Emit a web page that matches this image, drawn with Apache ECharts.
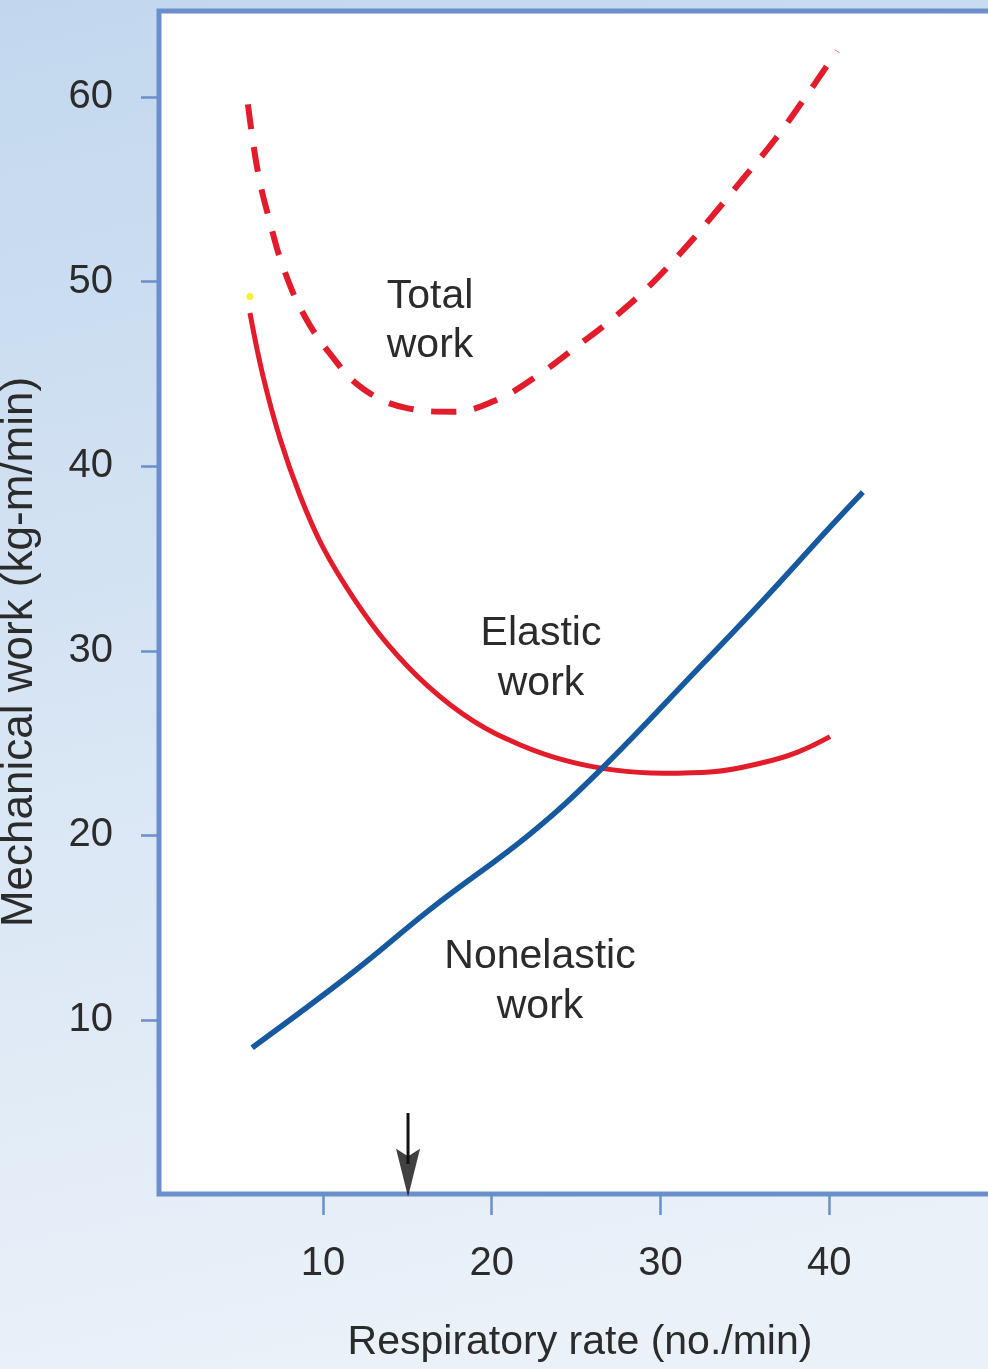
<!DOCTYPE html>
<html>
<head>
<meta charset="utf-8">
<script src="https://cdn.jsdelivr.net/npm/echarts@6/dist/echarts.min.js"></script>
<style>
html,body{margin:0;padding:0;overflow:hidden;}
#chart{width:988px;height:1369px;}
</style>
</head>
<body>
<div id="chart"></div>
<script>
// ---- data ----
const xTicks = [10, 20, 30, 40];
const yTicks = [10, 20, 30, 40, 50, 60];

const totalRate = [5.55, 6.15, 6.86, 7.63, 8.81, 10.41, 12.37, 14.98, 17.71, 20.31, 22.86, 25.06, 27.31, 29.38, 31.34, 33.12, 35.01, 36.79, 38.45, 40.47];
const totalWork = [59.6, 55.9, 53.2, 50.8, 48.3, 46.1, 44.2, 43.15, 42.95, 43.6, 45.0, 46.5, 48.1, 49.8, 51.7, 53.6, 55.7, 57.7, 59.8, 62.5];

const elasticRate = [5.67, 6.44, 7.45, 8.64, 10.0, 11.78, 13.79, 16.2, 18.9, 21.7, 24.4, 27.2, 30.2, 33.1, 36.1, 38.1, 40.05];
const elasticWork = [48.3, 44.9, 41.5, 38.4, 35.6, 32.9, 30.4, 28.1, 26.2, 24.9, 24.05, 23.55, 23.37, 23.45, 23.95, 24.5, 25.35];

const nonelasticRate = [5.8, 11.8, 16.5, 22.3, 26.5, 32.15, 36.1, 40.05, 42.0];
const nonelasticWork = [8.5, 12.6, 16.1, 20.1, 23.6, 28.95, 32.75, 36.7, 38.6];

const arrowRate = 15.04;
const arrowShaft = [4.96, 2.2];
const arrowHead = 1.72;

const markerDot = [5.67, 49.2];

const labels = {
  total: 'Total\nwork',
  elastic: 'Elastic\nwork',
  nonelastic: 'Nonelastic\nwork',
  xName: 'Respiratory rate (no./min)',
  yName: 'Mechanical work (kg-m/min)'
};

// ---- chart ----
const zip = (a, b) => a.map((v, i) => [v, b[i]]);
const FONT = '"Liberation Sans", Arial, Helvetica, sans-serif';
const TXT = '#2b2b2b';
const BORDER = '#6a8fcb';

const chart = echarts.init(document.getElementById('chart'), null, {renderer: 'canvas'});

const option = {
  animation: false,
  backgroundColor: {
    type: 'linear', x: 0, y: 0, x2: 0.3, y2: 1,
    colorStops: [
      {offset: 0, color: '#c2d7ee'},
      {offset: 0.55, color: '#d9e6f4'},
      {offset: 1, color: '#eaf1f9'}
    ]
  },
  grid: {
    left: 159, top: 11, width: 851, height: 1183,
    outerBoundsMode: 'none', containLabel: false,
    show: true, backgroundColor: '#ffffff',
    borderColor: BORDER, borderWidth: 5
  },
  xAxis: {
    type: 'value', min: 0.279, max: 50.72,
    axisLine: {show: false},
    splitLine: {show: false},
    axisTick: {show: true, length: 21, customValues: xTicks, lineStyle: {color: BORDER, width: 2.5}},
    axisLabel: {show: true, customValues: xTicks, margin: 50, color: TXT, fontSize: 40, fontFamily: FONT}
  },
  yAxis: {
    type: 'value', min: 0.574, max: 64.66,
    axisLine: {show: false},
    splitLine: {show: false},
    axisTick: {show: true, length: 18, customValues: yTicks, lineStyle: {color: BORDER, width: 2.5}},
    axisLabel: {show: true, customValues: yTicks, margin: 46, color: TXT, fontSize: 40, fontFamily: FONT}
  },
  series: [
    {
      name: 'Total work', type: 'line', data: zip(totalRate, totalWork),
      smooth: 0.4, showSymbol: false, symbol: 'none',
      lineStyle: {color: '#e21c2b', width: 6, type: [25, 18], cap: 'butt'}
    },
    {
      name: 'Elastic work', type: 'line', data: zip(elasticRate, elasticWork),
      smooth: 0.4, showSymbol: false, symbol: 'none',
      lineStyle: {color: '#e21c2b', width: 5}
    },
    {
      name: 'Nonelastic work', type: 'line', data: zip(nonelasticRate, nonelasticWork),
      smooth: 0.4, showSymbol: false, symbol: 'none',
      lineStyle: {color: '#17599f', width: 5.5}
    },
    {
      name: 'arrow shaft', type: 'line', data: arrowShaft.map(v => [arrowRate, v]),
      showSymbol: false, symbol: 'none',
      lineStyle: {color: '#111111', width: 3}
    },
    {
      name: 'arrow head', type: 'scatter', data: [[arrowRate, arrowHead]],
      symbol: 'path://M0,0 L12,7 L24,0 L12,46 Z', symbolSize: [24, 48],
      itemStyle: {color: '#111111'}
    },
    {
      name: 'dot', type: 'scatter', data: [markerDot],
      symbol: 'circle', symbolSize: 7,
      itemStyle: {color: '#f5ec00'}
    }
  ],
  graphic: [
    {type: 'text', x: 430, y: 321, style: {text: labels.total, fill: TXT, fontSize: 41, fontFamily: FONT, lineHeight: 49, align: 'center', verticalAlign: 'middle', textAlign: 'center', textVerticalAlign: 'middle'}},
    {type: 'text', x: 541, y: 659, style: {text: labels.elastic, fill: TXT, fontSize: 41, fontFamily: FONT, lineHeight: 50, align: 'center', verticalAlign: 'middle', textAlign: 'center', textVerticalAlign: 'middle'}},
    {type: 'text', x: 540, y: 982, style: {text: labels.nonelastic, fill: TXT, fontSize: 41, fontFamily: FONT, lineHeight: 50, align: 'center', verticalAlign: 'middle', textAlign: 'center', textVerticalAlign: 'middle'}},
    {type: 'text', x: 580, y: 1343, style: {text: labels.xName, fill: TXT, fontSize: 41, fontFamily: FONT, align: 'center', verticalAlign: 'middle', textAlign: 'center', textVerticalAlign: 'middle'}},
    {type: 'text', x: 20, y: 652, rotation: Math.PI / 2, style: {text: labels.yName, fill: TXT, fontSize: 44, fontFamily: FONT, align: 'center', verticalAlign: 'middle', textAlign: 'center', textVerticalAlign: 'middle'}}
  ]
};

chart.setOption(option);
</script>
</body>
</html>
